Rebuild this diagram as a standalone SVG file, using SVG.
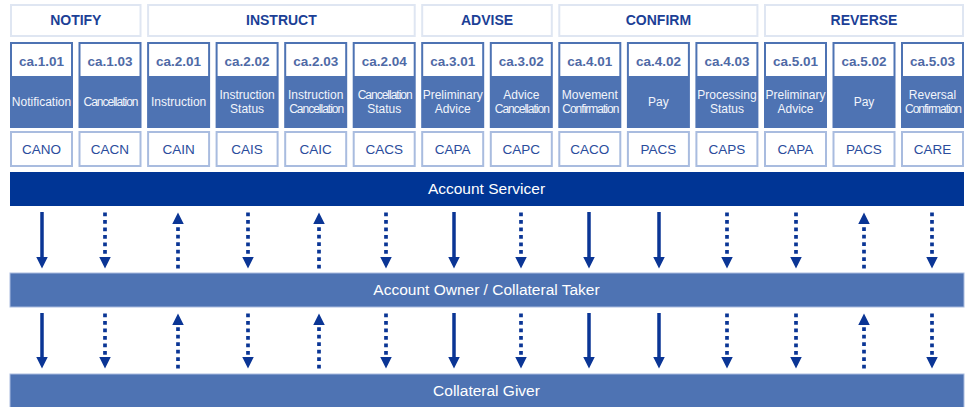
<svg xmlns="http://www.w3.org/2000/svg" width="969" height="407" viewBox="0 0 969 407">
<style>
.hdr{fill:#ffffff;stroke:#dfe6f2;stroke-width:2}
.hdrt{font-family:"Liberation Sans",Arial,sans-serif;font-size:14px;font-weight:bold;fill:#1c3f96;text-anchor:middle}
.card{fill:#4e73b3}
.top{fill:#ffffff}
.code{font-family:"Liberation Sans",Arial,sans-serif;font-size:13.5px;font-weight:bold;fill:#4f6aa6;text-anchor:middle}
.lbl{font-family:"Liberation Sans",Arial,sans-serif;font-size:12px;fill:#f2f5fb;text-anchor:middle}
.cn{letter-spacing:-1px}
.mbox{fill:#ffffff;stroke:#a9bcdf;stroke-width:2}
.mt{font-family:"Liberation Sans",Arial,sans-serif;font-size:13.5px;fill:#2a4c9c;text-anchor:middle}
.bar1{fill:#003595}
.bar2{fill:#4e73b3;stroke:#a9bcdf;stroke-width:1}
.bart{font-family:"Liberation Sans",Arial,sans-serif;font-size:15.5px;fill:#ffffff;text-anchor:middle}
.sol{stroke:#0a3595;stroke-width:3.5;fill:none;marker-end:url(#ah)}
.dot{stroke:#0a3595;stroke-width:3.7;stroke-dasharray:3.7 3.8;fill:none;marker-end:url(#ah)}
</style>
<defs>
<marker id="ah" markerUnits="userSpaceOnUse" markerWidth="12" markerHeight="12" refX="0" refY="5.75" orient="auto">
<path d="M0,0 L11.5,5.75 L0,11.5 z" fill="#0a3595"/>
</marker>
</defs>
<rect width="969" height="407" fill="#ffffff"/>

<g id="hdr-notify"><rect class="hdr" x="11" y="5" width="129.5" height="31"/><text class="hdrt" x="75.8" y="25">NOTIFY</text></g>
<g id="hdr-instruct"><rect class="hdr" x="148.1" y="5" width="266.6" height="31"/><text class="hdrt" x="281.4" y="25">INSTRUCT</text></g>
<g id="hdr-advise"><rect class="hdr" x="422.2" y="5" width="129.6" height="31"/><text class="hdrt" x="487" y="25">ADVISE</text></g>
<g id="hdr-confirm"><rect class="hdr" x="559.3" y="5" width="198.1" height="31"/><text class="hdrt" x="658.4" y="25">CONFIRM</text></g>
<g id="hdr-reverse"><rect class="hdr" x="765" y="5" width="198" height="31"/><text class="hdrt" x="864" y="25">REVERSE</text></g>

<g id="ca101"><rect class="card" x="10" y="42" width="63" height="86"/><rect class="top" x="12" y="44" width="59" height="32"/><text class="code" x="41.5" y="66">ca.1.01</text><text class="lbl" x="41.5" y="106">Notification</text><rect class="mbox" x="11" y="132" width="61" height="34"/><text class="mt" x="41.5" y="154">CANO</text></g>
<g id="ca103"><rect class="card" x="78.5" y="42" width="63" height="86"/><rect class="top" x="80.5" y="44" width="59" height="32"/><text class="code" x="110" y="66">ca.1.03</text><text class="lbl cn" x="110.5" y="106">Cancellation</text><rect class="mbox" x="79.5" y="132" width="61" height="34"/><text class="mt" x="110" y="154">CACN</text></g>
<g id="ca201"><rect class="card" x="147.1" y="42" width="63" height="86"/><rect class="top" x="149.1" y="44" width="59" height="32"/><text class="code" x="178.6" y="66">ca.2.01</text><text class="lbl" x="178.6" y="106">Instruction</text><rect class="mbox" x="148.1" y="132" width="61" height="34"/><text class="mt" x="178.6" y="154">CAIN</text></g>
<g id="ca202"><rect class="card" x="215.6" y="42" width="63" height="86"/><rect class="top" x="217.6" y="44" width="59" height="32"/><text class="code" x="247.1" y="66">ca.2.02</text><text class="lbl" x="247.1" y="99">Instruction</text><text class="lbl" x="247.1" y="112.5">Status</text><rect class="mbox" x="216.6" y="132" width="61" height="34"/><text class="mt" x="247.1" y="154">CAIS</text></g>
<g id="ca203"><rect class="card" x="284.2" y="42" width="63" height="86"/><rect class="top" x="286.2" y="44" width="59" height="32"/><text class="code" x="315.7" y="66">ca.2.03</text><text class="lbl" x="315.7" y="99">Instruction</text><text class="lbl cn" x="316.2" y="112.5">Cancellation</text><rect class="mbox" x="285.2" y="132" width="61" height="34"/><text class="mt" x="315.7" y="154">CAIC</text></g>
<g id="ca204"><rect class="card" x="352.7" y="42" width="63" height="86"/><rect class="top" x="354.7" y="44" width="59" height="32"/><text class="code" x="384.2" y="66">ca.2.04</text><text class="lbl cn" x="384.7" y="99">Cancellation</text><text class="lbl" x="384.2" y="112.5">Status</text><rect class="mbox" x="353.7" y="132" width="61" height="34"/><text class="mt" x="384.2" y="154">CACS</text></g>
<g id="ca301"><rect class="card" x="421.2" y="42" width="63" height="86"/><rect class="top" x="423.2" y="44" width="59" height="32"/><text class="code" x="452.7" y="66">ca.3.01</text><text class="lbl" x="452.7" y="99">Preliminary</text><text class="lbl" x="452.7" y="112.5">Advice</text><rect class="mbox" x="422.2" y="132" width="61" height="34"/><text class="mt" x="452.7" y="154">CAPA</text></g>
<g id="ca302"><rect class="card" x="489.8" y="42" width="63" height="86"/><rect class="top" x="491.8" y="44" width="59" height="32"/><text class="code" x="521.3" y="66">ca.3.02</text><text class="lbl" x="521.3" y="99">Advice</text><text class="lbl cn" x="521.8" y="112.5">Cancellation</text><rect class="mbox" x="490.8" y="132" width="61" height="34"/><text class="mt" x="521.3" y="154">CAPC</text></g>
<g id="ca401"><rect class="card" x="558.3" y="42" width="63" height="86"/><rect class="top" x="560.3" y="44" width="59" height="32"/><text class="code" x="589.8" y="66">ca.4.01</text><text class="lbl" x="589.8" y="99">Movement</text><text class="lbl cn" x="590.3" y="112.5">Confirmation</text><rect class="mbox" x="559.3" y="132" width="61" height="34"/><text class="mt" x="589.8" y="154">CACO</text></g>
<g id="ca402"><rect class="card" x="626.9" y="42" width="63" height="86"/><rect class="top" x="628.9" y="44" width="59" height="32"/><text class="code" x="658.4" y="66">ca.4.02</text><text class="lbl" x="658.4" y="106">Pay</text><rect class="mbox" x="627.9" y="132" width="61" height="34"/><text class="mt" x="658.4" y="154">PACS</text></g>
<g id="ca403"><rect class="card" x="695.4" y="42" width="63" height="86"/><rect class="top" x="697.4" y="44" width="59" height="32"/><text class="code" x="726.9" y="66">ca.4.03</text><text class="lbl" x="726.9" y="99">Processing</text><text class="lbl" x="726.9" y="112.5">Status</text><rect class="mbox" x="696.4" y="132" width="61" height="34"/><text class="mt" x="726.9" y="154">CAPS</text></g>
<g id="ca501"><rect class="card" x="764" y="42" width="63" height="86"/><rect class="top" x="766" y="44" width="59" height="32"/><text class="code" x="795.5" y="66">ca.5.01</text><text class="lbl" x="795.5" y="99">Preliminary</text><text class="lbl" x="795.5" y="112.5">Advice</text><rect class="mbox" x="765" y="132" width="61" height="34"/><text class="mt" x="795.5" y="154">CAPA</text></g>
<g id="ca502"><rect class="card" x="832.5" y="42" width="63" height="86"/><rect class="top" x="834.5" y="44" width="59" height="32"/><text class="code" x="864" y="66">ca.5.02</text><text class="lbl" x="864" y="106">Pay</text><rect class="mbox" x="833.5" y="132" width="61" height="34"/><text class="mt" x="864" y="154">PACS</text></g>
<g id="ca503"><rect class="card" x="901" y="42" width="63" height="86"/><rect class="top" x="903" y="44" width="59" height="32"/><text class="code" x="932.5" y="66">ca.5.03</text><text class="lbl" x="932.5" y="99">Reversal</text><text class="lbl cn" x="933" y="112.5">Confirmation</text><rect class="mbox" x="902" y="132" width="61" height="34"/><text class="mt" x="932.5" y="154">CARE</text></g>

<g id="account-servicer"><rect class="bar1" x="10" y="172" width="954" height="34"/><text class="bart" x="486.5" y="194">Account Servicer</text></g>
<g id="account-owner"><rect class="bar2" x="10" y="273" width="954" height="34"/><text class="bart" x="486.5" y="294.5">Account Owner / Collateral Taker</text></g>
<g id="collateral-giver"><rect class="bar2" x="10" y="374" width="954" height="36"/><text class="bart" x="486.5" y="395.5">Collateral Giver</text></g>

<g id="connectors">
<line class="sol" x1="42" y1="212" x2="42" y2="257"/>
<line class="dot" x1="105" y1="212.5" x2="105" y2="257"/>
<line class="dot" x1="178" y1="268.5" x2="178" y2="224"/>
<line class="dot" x1="248" y1="212.5" x2="248" y2="257"/>
<line class="dot" x1="319" y1="268.5" x2="319" y2="224"/>
<line class="dot" x1="386" y1="212.5" x2="386" y2="257"/>
<line class="sol" x1="454" y1="212" x2="454" y2="257"/>
<line class="dot" x1="521" y1="212.5" x2="521" y2="257"/>
<line class="sol" x1="589" y1="212" x2="589" y2="257"/>
<line class="sol" x1="659" y1="212" x2="659" y2="257"/>
<line class="dot" x1="727" y1="212.5" x2="727" y2="257"/>
<line class="dot" x1="796" y1="212.5" x2="796" y2="257"/>
<line class="dot" x1="864" y1="268.5" x2="864" y2="224"/>
<line class="dot" x1="932" y1="212.5" x2="932" y2="257"/>

<line class="sol" x1="42" y1="313" x2="42" y2="357"/>
<line class="dot" x1="105" y1="313.5" x2="105" y2="357"/>
<line class="dot" x1="178" y1="368.5" x2="178" y2="325"/>
<line class="dot" x1="248" y1="313.5" x2="248" y2="357"/>
<line class="dot" x1="319" y1="368.5" x2="319" y2="325"/>
<line class="dot" x1="386" y1="313.5" x2="386" y2="357"/>
<line class="sol" x1="454" y1="313" x2="454" y2="357"/>
<line class="dot" x1="521" y1="313.5" x2="521" y2="357"/>
<line class="sol" x1="589" y1="313" x2="589" y2="357"/>
<line class="sol" x1="659" y1="313" x2="659" y2="357"/>
<line class="dot" x1="727" y1="313.5" x2="727" y2="357"/>
<line class="dot" x1="796" y1="313.5" x2="796" y2="357"/>
<line class="dot" x1="864" y1="368.5" x2="864" y2="325"/>
<line class="dot" x1="932" y1="313.5" x2="932" y2="357"/>
</g>
</svg>
